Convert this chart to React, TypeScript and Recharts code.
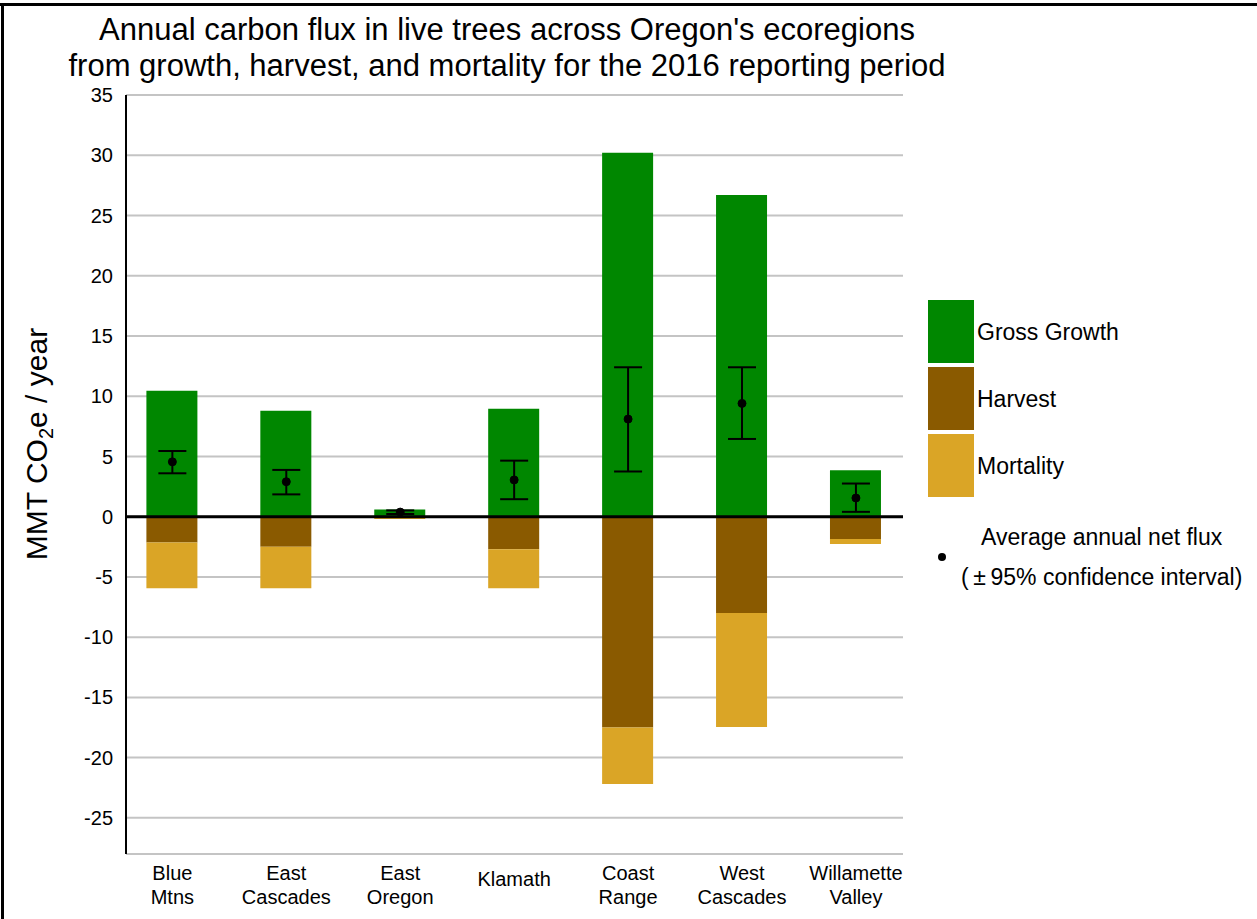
import React from "react";
import {
  ComposedChart,
  Bar,
  Line,
  XAxis,
  YAxis,
  CartesianGrid,
  ReferenceLine,
  ErrorBar,
} from "recharts";

const regions = [
  "Blue Mtns",
  "East Cascades",
  "East Oregon",
  "Klamath",
  "Coast Range",
  "West Cascades",
  "Willamette Valley",
];
const tickLabels = [
  ["Blue", "Mtns"],
  ["East", "Cascades"],
  ["East", "Oregon"],
  ["Klamath"],
  ["Coast", "Range"],
  ["West", "Cascades"],
  ["Willamette", "Valley"],
];
const grossGrowth = [10.45, 8.8, 0.6, 8.95, 30.2, 26.7, 3.85];
const harvest = [-2.15, -2.5, -0.05, -2.7, -17.5, -8.0, -1.85];
const mortality = [-3.8, -3.45, -0.15, -3.25, -4.7, -9.45, -0.42];
const netFlux = [4.55, 2.9, 0.38, 3.05, 8.1, 9.4, 1.55];
const ciLow = [3.6, 1.85, 0.22, 1.45, 3.75, 6.45, 0.4];
const ciHigh = [5.45, 3.88, 0.52, 4.65, 12.4, 12.4, 2.75];
const yTicks = [35, 30, 25, 20, 15, 10, 5, 0, -5, -10, -15, -20, -25];

const GREEN = "#008700";
const BROWN = "#8a5a00";
const GOLD = "#daa526";
const FONT = "'Liberation Sans', Arial, sans-serif";

const data = regions.map((r, i) => ({
  region: r,
  growth: grossGrowth[i],
  harvest: harvest[i],
  mortality: mortality[i],
  net: netFlux[i],
  netErr: [netFlux[i] - ciLow[i], ciHigh[i] - netFlux[i]],
}));

const XTick = (props: any) => {
  const { x, y, payload } = props;
  const idx = regions.indexOf(payload.value);
  const lines = tickLabels[idx] || [payload.value];
  if (lines.length === 1) {
    return (
      <text x={x} y={y + 32} textAnchor="middle" fontSize={20} fontFamily={FONT} fill="#000">
        {lines[0]}
      </text>
    );
  }
  return (
    <text x={x} textAnchor="middle" fontSize={20} fontFamily={FONT} fill="#000">
      <tspan x={x} y={y + 26}>{lines[0]}</tspan>
      <tspan x={x} y={y + 50}>{lines[1]}</tspan>
    </text>
  );
};

const legendItems = [
  { label: "Gross Growth", color: GREEN },
  { label: "Harvest", color: BROWN },
  { label: "Mortality", color: GOLD },
];

export default function App() {
  return (
    <div
      style={{
        position: "absolute",
        left: 0,
        top: 0,
        width: 1257,
        height: 919,
        background: "#fff",
        fontFamily: FONT,
        overflow: "hidden",
      }}
    >
      {/* frame */}
      <div style={{ position: "absolute", left: 0, top: 3, width: 1257, height: 3, background: "#000" }} />
      <div style={{ position: "absolute", left: 1, top: 3, width: 3, height: 916, background: "#000" }} />

      {/* title */}
      <div
        style={{
          position: "absolute",
          left: 0,
          width: 1014,
          top: 12,
          textAlign: "center",
          fontSize: 31,
          lineHeight: "36px",
          color: "#000",
        }}
      >
        Annual carbon flux in live trees across Oregon's ecoregions
        <br />
        from growth, harvest, and mortality for the 2016 reporting period
      </div>

      <div style={{ position: "absolute", left: 0, top: 0 }}>
        <ComposedChart
          width={1257}
          height={919}
          data={data}
          stackOffset="sign"
          margin={{ top: 95, right: 354, bottom: 15, left: 66 }}
        >
          <CartesianGrid vertical={false} stroke="#c4c4c4" strokeWidth={2} />
          <XAxis
            dataKey="region"
            type="category"
            height={50}
            axisLine={false}
            tickLine={false}
            tickSize={0}
            tickMargin={0}
            interval={0}
            padding={{ left: -10.6, right: -9.9 }}
            tick={<XTick />}
          />
          <YAxis
            type="number"
            domain={[-28, 35]}
            ticks={yTicks}
            interval={0}
            width={60}
            axisLine={{ stroke: "#000", strokeWidth: 2 }}
            tickLine={false}
            tickSize={6}
            tickMargin={7}
            tick={{ fontSize: 20, fill: "#000", fontFamily: FONT }}
          />
          <Bar dataKey="growth" stackId="s" fill={GREEN} barSize={51} isAnimationActive={false} />
          <Bar dataKey="harvest" stackId="s" fill={BROWN} barSize={51} isAnimationActive={false} />
          <Bar dataKey="mortality" stackId="s" fill={GOLD} barSize={51} isAnimationActive={false} />
          <ReferenceLine y={0} stroke="#000" strokeWidth={3} />
          <Line
            dataKey="net"
            stroke="none"
            isAnimationActive={false}
            dot={{ r: 4, fill: "#000", stroke: "#000", strokeWidth: 1 }}
            activeDot={false}
          >
            <ErrorBar dataKey="netErr" direction="y" width={14} stroke="#000" strokeWidth={2} />
          </Line>
        </ComposedChart>
      </div>

      {/* y-axis title */}
      <div
        style={{
          position: "absolute",
          left: 37,
          top: 444,
          transform: "translate(-50%, -50%) rotate(-90deg)",
          whiteSpace: "nowrap",
          fontSize: 30,
          color: "#000",
        }}
      >
        MMT CO<sub style={{ fontSize: 20, verticalAlign: "-0.3em", lineHeight: 0 }}>2</sub>e / year
      </div>

      {/* legend */}
      {legendItems.map((it, i) => (
        <React.Fragment key={it.label}>
          <div
            style={{
              position: "absolute",
              left: 928,
              top: 300 + i * 67,
              width: 46,
              height: 63,
              background: it.color,
            }}
          />
          <div
            style={{
              position: "absolute",
              left: 977,
              top: 300 + i * 67 + 32,
              transform: "translateY(-50%)",
              fontSize: 23,
              color: "#000",
              whiteSpace: "nowrap",
            }}
          >
            {it.label}
          </div>
        </React.Fragment>
      ))}
      <div
        style={{
          position: "absolute",
          left: 938,
          top: 553,
          width: 8,
          height: 8,
          borderRadius: 4,
          background: "#000",
        }}
      />
      <div
        style={{
          position: "absolute",
          left: 981,
          top: 537,
          transform: "translateY(-50%)",
          fontSize: 23,
          color: "#000",
          whiteSpace: "nowrap",
        }}
      >
        Average annual net flux
      </div>
      <div
        style={{
          position: "absolute",
          left: 961,
          top: 577,
          transform: "translateY(-50%)",
          fontSize: 23,
          color: "#000",
          whiteSpace: "nowrap",
        }}
      >
        ({"\u2009"}±{"\u2009"}95% confidence interval)
      </div>
    </div>
  );
}
